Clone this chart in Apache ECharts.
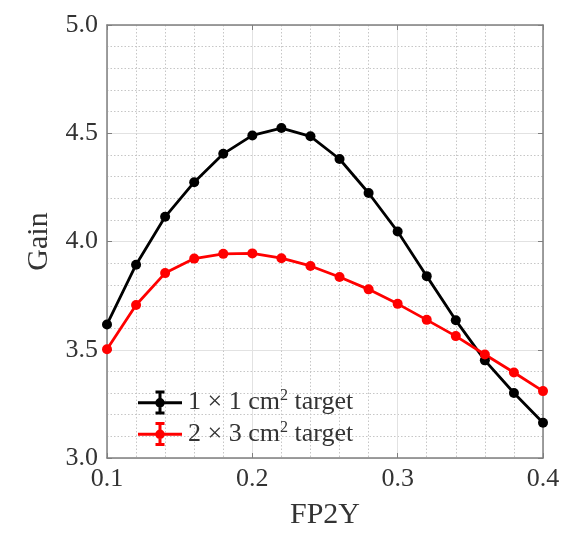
<!DOCTYPE html>
<html>
<head>
<meta charset="utf-8">
<script src="https://cdn.jsdelivr.net/npm/echarts@6/dist/echarts.min.js"></script>
<style>
  html, body { margin: 0; padding: 0; background: #fff; }
  #chart { width: 582px; height: 535px; }
</style>
</head>
<body>
<div id="chart"></div>
<script>
const fp2y = [0.10, 0.12, 0.14, 0.16, 0.18, 0.20, 0.22, 0.24, 0.26, 0.28, 0.30, 0.32, 0.34, 0.36, 0.38, 0.40]
const gainSmall = [3.617, 3.893, 4.114, 4.274, 4.405, 4.490, 4.524, 4.486, 4.381, 4.224, 4.046, 3.840, 3.636, 3.451, 3.300, 3.163]
const gainLarge = [3.502, 3.707, 3.854, 3.921, 3.943, 3.945, 3.923, 3.887, 3.836, 3.779, 3.712, 3.638, 3.563, 3.478, 3.395, 3.309]
const seriesNames = ['small', 'large']
const legendLabels = {
  small: '1 × 1 cm{sup|2} target',
  large: '2 × 3 cm{sup|2} target'
}

const FONT = 'Liberation Serif'
const TEXT = '#333333'
const AXIS = '#7f7f7f'

// line + marker + error bar, drawn as one filled path (44 x 24 box)
const errIcon = 'path://M0 10.8 L44 10.8 L44 13.8 L0 13.8 Z ' +
  'M20.5 0 L23.5 0 L23.5 24 L20.5 24 Z ' +
  'M17.5 0 L26.5 0 L26.5 3 L17.5 3 Z ' +
  'M17.5 21 L26.5 21 L26.5 24 L17.5 24 Z ' +
  'M26.8 12.3 A4.8 4.8 0 1 1 17.2 12.3 A4.8 4.8 0 1 1 26.8 12.3 Z'

const pairs = (ys) => fp2y.map((x, i) => [x, ys[i]])

const frameAxis = {
  axisLine: { show: true, lineStyle: { color: AXIS, width: 1.5 } },
  axisTick: { show: true, inside: true, length: 5, lineStyle: { color: AXIS } },
  axisLabel: { show: false },
  splitLine: { show: false }
}

const chart = echarts.init(document.getElementById('chart'), null, { renderer: 'canvas' })
chart.setOption({
  animation: false,
  backgroundColor: '#fff',
  grid: { left: 107, right: 39, top: 25, bottom: 76 },
  legend: {
    orient: 'vertical',
    left: 133,
    top: 383,
    itemWidth: 44,
    itemHeight: 24,
    itemGap: 4,
    icon: errIcon,
    itemStyle: { borderWidth: 0 },
    data: seriesNames,
    formatter: (name) => legendLabels[name],
    textStyle: {
      fontFamily: FONT,
      fontSize: 26,
      color: TEXT,
      padding: [0, 0, 0, 1],
      rich: {
        sup: { fontFamily: FONT, fontSize: 16, color: TEXT, padding: [0, 0, 13, 0] }
      }
    }
  },
  xAxis: [{
    type: 'value',
    min: 0.1,
    max: 0.4,
    interval: 0.1,
    name: 'FP2Y',
    nameLocation: 'middle',
    nameGap: 42,
    nameTextStyle: { fontFamily: FONT, fontSize: 30, color: TEXT },
    axisLine: { show: true, onZero: false, lineStyle: { color: AXIS, width: 1.5 } },
    axisTick: { show: true, inside: true, length: 5, lineStyle: { color: AXIS } },
    axisLabel: { fontFamily: FONT, fontSize: 26, color: TEXT, margin: 8, formatter: (v) => v.toFixed(1) },
    splitLine: { show: true, lineStyle: { color: '#e2e2e2', width: 1 } },
    minorTick: { show: false, splitNumber: 5 },
    minorSplitLine: { show: true, lineStyle: { color: '#c6c6c6', width: 1, type: [1.5, 2] } }
  }, {
    type: 'value',
    position: 'top',
    min: 0.1,
    max: 0.4,
    interval: 0.1,
    ...frameAxis
  }],
  yAxis: [{
    type: 'value',
    min: 3,
    max: 5,
    interval: 0.5,
    name: 'Gain',
    nameLocation: 'middle',
    nameGap: 52,
    nameTextStyle: { fontFamily: FONT, fontSize: 30, color: TEXT },
    axisLine: { show: true, onZero: false, lineStyle: { color: AXIS, width: 1.5 } },
    axisTick: { show: true, inside: true, length: 5, lineStyle: { color: AXIS } },
    axisLabel: { fontFamily: FONT, fontSize: 26, color: TEXT, margin: 9, formatter: (v) => v.toFixed(1) },
    splitLine: { show: true, lineStyle: { color: '#e2e2e2', width: 1 } },
    minorTick: { show: false, splitNumber: 5 },
    minorSplitLine: { show: true, lineStyle: { color: '#c6c6c6', width: 1, type: [1.5, 2] } }
  }, {
    type: 'value',
    position: 'right',
    min: 3,
    max: 5,
    interval: 0.5,
    ...frameAxis
  }],
  series: [{
    name: 'small',
    type: 'line',
    data: pairs(gainSmall),
    color: '#000000',
    symbol: 'circle',
    symbolSize: 10,
    lineStyle: { width: 2.8 },
    itemStyle: { color: '#000000' }
  }, {
    name: 'large',
    type: 'line',
    data: pairs(gainLarge),
    color: '#ff0000',
    symbol: 'circle',
    symbolSize: 10,
    lineStyle: { width: 2.8 },
    itemStyle: { color: '#ff0000' }
  }]
})
</script>
</body>
</html>
